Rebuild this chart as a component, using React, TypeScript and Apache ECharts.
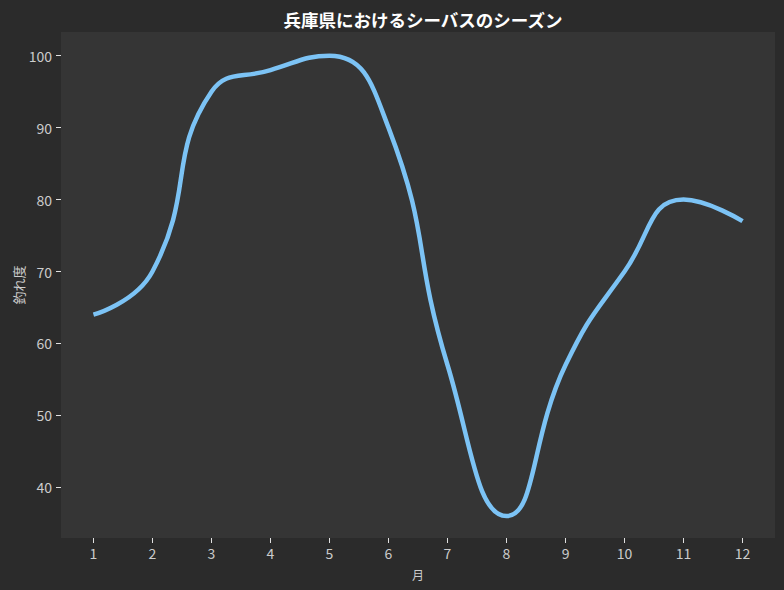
import React, { useEffect, useRef } from "react";
import * as echarts from "echarts";

const months = [1, 2, 3, 4, 5, 6, 7, 8, 9, 10, 11, 12];
const scores = [64, 70, 95, 98, 100, 90, 57, 36, 57, 70, 80, 77];
const yTicks = [40, 50, 60, 70, 80, 90, 100];

const titleText = "兵庫県におけるシーバスのシーズン";
const xName = "月";
const yName = "釣れ度";

const labelFont = "'Noto Sans CJK JP', sans-serif";
const cjkFont = "'Noto Sans CJK JP', sans-serif";

const X_MIN = 0.45;
const X_MAX = 12.55;
const Y_MIN = 32.95;
const Y_MAX = 103.3;

export default function App() {
  const ref = useRef<HTMLDivElement>(null);

  useEffect(() => {
    if (!ref.current) return;
    const chart = echarts.init(ref.current, null, { renderer: "svg" });
    const nameOnly = {
      type: "value",
      axisLine: { show: false },
      axisTick: { show: false },
      axisLabel: { show: false },
      splitLine: { show: false },
      nameLocation: "middle",
    };
    chart.setOption({
      animation: false,
      backgroundColor: "#2b2b2b",
      title: {
        text: titleText,
        left: 418,
        top: 6,
        textAlign: "center",
        textStyle: {
          color: "#ffffff",
          fontSize: 17.5,
          fontWeight: "bold",
          fontFamily: cjkFont,
        },
      },
      grid: {
        left: 61,
        right: 9,
        top: 32,
        bottom: 52,
        show: true,
        backgroundColor: "#353535",
        borderWidth: 0,
        containLabel: false,
        outerBoundsMode: "none",
      },
      xAxis: [
        {
          type: "value",
          min: X_MIN,
          max: X_MAX,
          position: "bottom",
          axisLine: { show: false },
          splitLine: { show: false },
          axisTick: {
            show: true,
            length: 5,
            customValues: months,
            lineStyle: { color: "#e0e0e0", width: 1 },
          },
          axisLabel: {
            customValues: months,
            color: "#cccccc",
            fontSize: 14,
            fontFamily: labelFont,
            margin: 8,
          },
        },
        {
          ...nameOnly,
          min: X_MIN,
          max: X_MAX,
          position: "bottom",
          name: xName,
          nameGap: 30,
          nameTextStyle: { color: "#cccccc", fontSize: 12, fontFamily: cjkFont },
        },
      ],
      yAxis: [
        {
          type: "value",
          min: Y_MIN,
          max: Y_MAX,
          position: "left",
          axisLine: { show: false },
          splitLine: { show: false },
          axisTick: {
            show: true,
            length: 5,
            customValues: yTicks,
            lineStyle: { color: "#e0e0e0", width: 1 },
          },
          axisLabel: {
            customValues: yTicks,
            color: "#cccccc",
            fontSize: 14,
            fontFamily: labelFont,
            margin: 9,
          },
        },
        {
          ...nameOnly,
          min: Y_MIN,
          max: Y_MAX,
          position: "left",
          name: yName,
          nameGap: 36,
          nameRotate: 90,
          nameTextStyle: { color: "#cccccc", fontSize: 13, fontFamily: cjkFont },
        },
      ],
      series: [
        {
          type: "line",
          xAxisIndex: 0,
          yAxisIndex: 0,
          data: months.map((m, i) => [m, scores[i]]),
          smooth: 0.5,
          showSymbol: false,
          lineStyle: { color: "#7cc3f5", width: 4.5 },
        },
      ],
    });
    return () => chart.dispose();
  }, []);

  return (
    <div
      ref={ref}
      style={{ position: "fixed", left: 0, top: 0, width: 784, height: 590 }}
    />
  );
}
